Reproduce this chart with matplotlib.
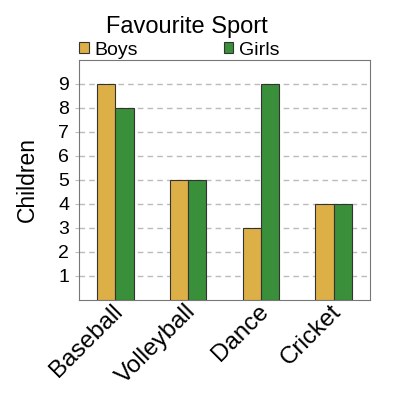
import matplotlib
matplotlib.use("Agg")
import matplotlib.pyplot as plt
import numpy as np

plt.rcParams['font.family'] = ['Liberation Sans', 'DejaVu Sans']

sports = ["Baseball", "Volleyball", "Dance", "Cricket"]
boys = [9, 5, 3, 4]
girls = [8, 5, 9, 4]

fig = plt.figure(figsize=(4, 4), dpi=100)
ax = fig.add_axes([0.1975, 0.25, 0.7275, 0.6])

x = np.arange(len(sports))
w = 0.25
ax.bar(x - w / 2, boys, w, color="#DDAF47", edgecolor="#333333", linewidth=0.8, label="Boys", zorder=3)
ax.bar(x + w / 2, girls, w, color="#3A8F3A", edgecolor="#333333", linewidth=0.8, label="Girls", zorder=3)

ax.set_xlim(-0.5, 3.5)
ax.set_ylim(0, 10)
ax.set_yticks(range(1, 10))
# labels sit a touch right of the group centre in the original
ax.set_xticks(x + 0.06)
ax.set_xticklabels(sports, rotation=45, ha="right", va="center", rotation_mode="anchor", fontsize=17.5)
ax.tick_params(axis="y", labelsize=14, length=3, color="#BBBBBB", pad=4)
ax.tick_params(axis="x", length=0, pad=6)
ax.yaxis.grid(True, linestyle=(0, (4, 3)), color="#BBBBBB", linewidth=1, zorder=0)
for s in ax.spines.values():
    s.set_color("#777777")
ax.set_ylabel("Children", fontsize=16.5, labelpad=14)

fig.text(0.4675, 0.932, "Favourite Sport", ha="center", va="center", fontsize=17)
leg = ax.legend(loc="lower left", bbox_to_anchor=(0.0, 1.005), ncol=2, frameon=False,
                fontsize=14, handlelength=0.5, handleheight=0.5, handletextpad=0.3,
                columnspacing=4.4, borderaxespad=0, borderpad=0)

fig.savefig("out.png", dpi=100)
